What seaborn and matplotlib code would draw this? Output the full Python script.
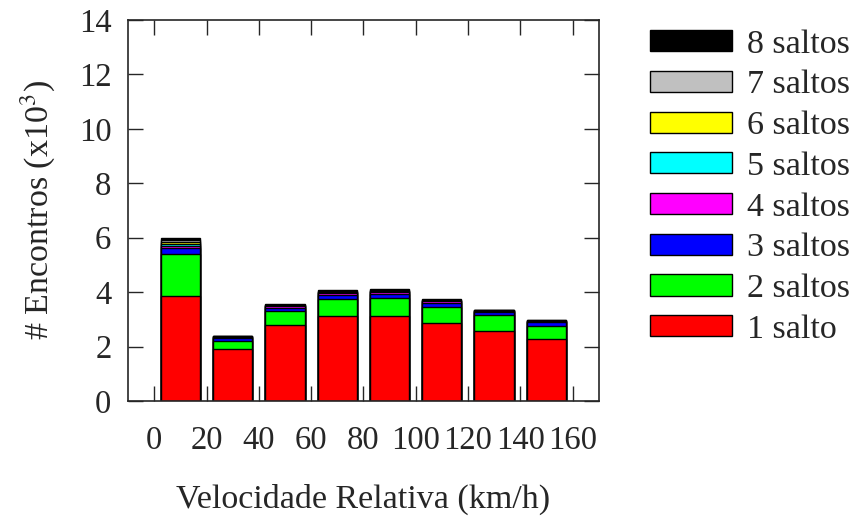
import numpy as np
import matplotlib
matplotlib.use('Agg')
import matplotlib.pyplot as plt
import matplotlib.patches as mpatches
import pandas as pd
import seaborn as sns

# velocity bins (centre, km/h) and encounters per hop count (x10^3)
velocidade = [10, 30, 50, 70, 90, 110, 130, 150]
saltos_1 = [3.85, 1.90, 2.78, 3.11, 3.12, 2.88, 2.58, 2.28]
saltos_2 = [1.54, 0.32, 0.53, 0.65, 0.67, 0.59, 0.57, 0.49]
saltos_3 = [0.22, 0.11, 0.11, 0.14, 0.14, 0.14, 0.12, 0.12]
saltos_4 = [0.07, 0.02, 0.06, 0.06, 0.07, 0.05, 0.03, 0.03]
saltos_5 = [0.07, 0.01, 0.02, 0.03, 0.03, 0.02, 0.02, 0.02]
saltos_6 = [0.08, 0.01, 0.01, 0.02, 0.02, 0.02, 0.01, 0.01]
saltos_7 = [0.07, 0.01, 0.01, 0.03, 0.02, 0.02, 0.01, 0.01]
saltos_8 = [0.08, 0.02, 0.04, 0.03, 0.04, 0.04, 0.02, 0.02]

labels = ['1 salto', '2 saltos', '3 saltos', '4 saltos',
          '5 saltos', '6 saltos', '7 saltos', '8 saltos']
cores = ['#ff0000', '#00ff00', '#0000ff', '#ff00ff',
         '#00ffff', '#ffff00', '#c0c0c0', '#000000']
x_ticks = [0, 20, 40, 60, 80, 100, 120, 140, 160]

series = [saltos_1, saltos_2, saltos_3, saltos_4,
          saltos_5, saltos_6, saltos_7, saltos_8]
acumulado = np.cumsum(np.array(series), axis=0)

sns.set_style('ticks')
plt.rcParams['font.family'] = ['Liberation Serif', 'DejaVu Serif']
plt.rcParams['mathtext.fontset'] = 'stix'

fig = plt.figure(figsize=(8.54, 5.2), dpi=100)
ax = fig.add_axes([0.150, 0.229, 0.551, 0.7325])

# stacked bars: draw cumulative totals from the top layer down
for i in range(len(series) - 1, -1, -1):
    df = pd.DataFrame({'v': velocidade, 'n': acumulado[i]})
    sns.barplot(data=df, x='v', y='n', native_scale=True, width=0.75,
                color=cores[i], saturation=1, edgecolor='black',
                linewidth=1.0, ax=ax, errorbar=None)

ax.set_xlim(-10, 170)
ax.set_ylim(0, 14)
ax.set_xticks(x_ticks)
ax.set_xticklabels([str(t) for t in x_ticks])
ax.set_yticks(range(0, 15, 2))
ax.tick_params(direction='in', length=11, width=1, labelsize=23.5,
               top=True, right=True)
ax.tick_params(axis='x', pad=18)
ax.tick_params(axis='y', pad=12)
for s in ax.spines.values():
    s.set_linewidth(1.2)
ax.set_xlabel('Velocidade Relativa (km/h)', fontsize=24.5, labelpad=20)
ax.set_ylabel('# Encontros (x10$^3$)', fontsize=24.5, labelpad=16)

handles = [mpatches.Patch(facecolor=cores[i], edgecolor='black', label=labels[i])
           for i in range(len(labels) - 1, -1, -1)]
fig.legend(handles=handles, loc='upper left', bbox_to_anchor=(0.745, 0.97),
           frameon=False, fontsize=24.5, handlelength=2.4, handleheight=0.58,
           labelspacing=0.3, handletextpad=0.45, borderaxespad=0)

fig.savefig('out.png', dpi=100)
